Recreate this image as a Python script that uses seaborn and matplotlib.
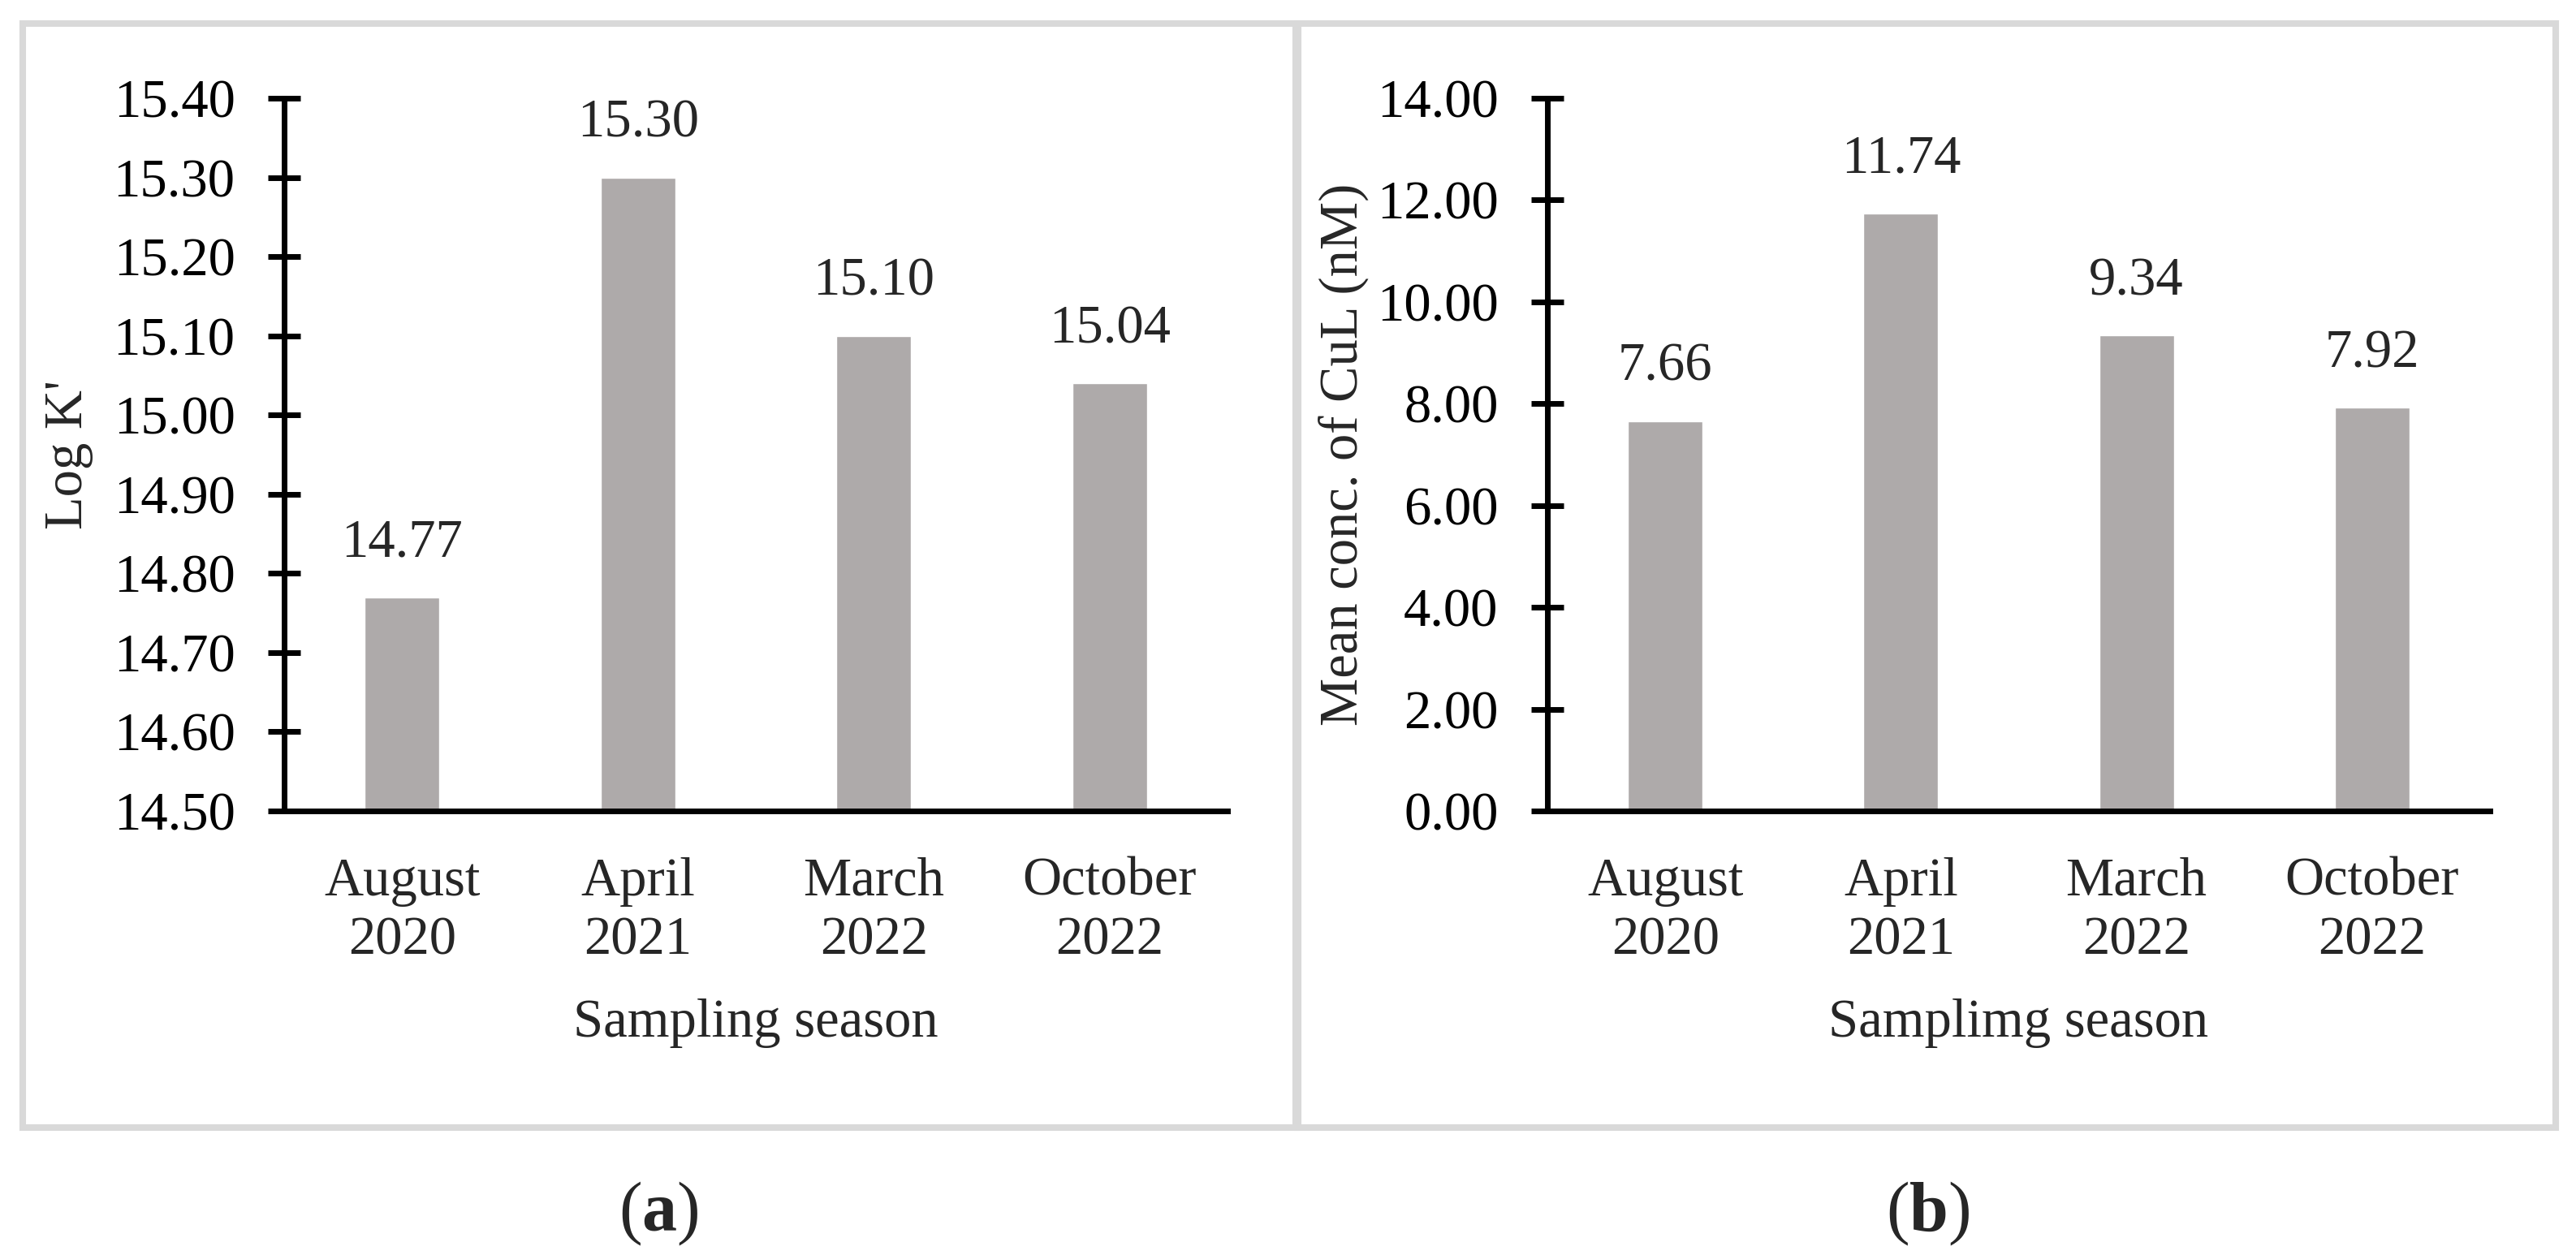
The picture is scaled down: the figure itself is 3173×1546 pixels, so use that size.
import numpy as np
import pandas as pd
import matplotlib
matplotlib.use("Agg")
import matplotlib.pyplot as plt
import matplotlib.ticker as mticker
from matplotlib.patches import Rectangle
import seaborn as sns

# ─────────────────────────────────────────────
# Données
# ─────────────────────────────────────────────
seasons = ["August\n2020", "April\n2021", "March\n2022", "October\n2022"]
log_k = [14.77, 15.30, 15.10, 15.04]
cul_conc = [7.66, 11.74, 9.34, 7.92]

panel_a_ylabel = "Log K'"
panel_b_ylabel = "Mean conc. of CuL (nM)"
panel_a_xlabel = "Sampling season"
panel_b_xlabel = "Samplimg season"

BAR_COLOR = "#AEAAAA"
BORDER_COLOR = "#D9D9D9"

# ─────────────────────────────────────────────
# Style
# ─────────────────────────────────────────────
sns.set_style("white")
plt.rcParams["font.family"] = ["Liberation Serif", "DejaVu Serif"]
plt.rcParams["mathtext.fontset"] = "custom"
plt.rcParams["mathtext.rm"] = "Liberation Serif"
plt.rcParams["mathtext.bf"] = "Liberation Serif:bold"

FS = 48
W, H = 3173, 1546
fig = plt.figure(figsize=(W / 100, H / 100), dpi=100)


def px_axes(x0, y0, x1, y1):
    return fig.add_axes([x0 / W, (H - y1) / H, (x1 - x0) / W, (y1 - y0) / H])


def draw_panel(ax, values, ylim, step, ylabel, xlabel, ylabelpad):
    df = pd.DataFrame({"season": seasons, "value": values})
    sns.barplot(data=df, x="season", y="value", color=BAR_COLOR, saturation=1,
                width=0.317, ax=ax, zorder=1)
    ax.set_ylim(*ylim)
    ax.yaxis.set_major_locator(mticker.MultipleLocator(step))
    ax.yaxis.set_major_formatter(mticker.FormatStrFormatter("%.2f"))
    for s in ["top", "right"]:
        ax.spines[s].set_visible(False)
    for s in ["left", "bottom"]:
        ax.spines[s].set_linewidth(5)
        ax.spines[s].set_color("black")
        ax.spines[s].set_zorder(3)
    ax.tick_params(axis="y", direction="inout", length=29, width=5,
                   pad=29, labelsize=FS, colors="black", left=True)
    ax.tick_params(axis="x", length=0, pad=41, labelsize=FS)
    for lab in ax.get_xticklabels():
        lab.set_linespacing(1.25)
    ax.set_ylabel(ylabel, fontsize=FS, labelpad=ylabelpad)
    ax.set_xlabel(xlabel, fontsize=FS, labelpad=29)
    for i, v in enumerate(values):
        ax.annotate(f"{v:.2f}", (i, v), xytext=(0, 36), textcoords="offset points",
                    ha="center", va="baseline", fontsize=FS, annotation_clip=False)


ax_a = px_axes(350, 121, 1512, 999)
draw_panel(ax_a, log_k, (14.5, 15.4), 0.1, panel_a_ylabel, panel_a_xlabel, 18)

ax_b = px_axes(1906, 121, 3067, 999)
draw_panel(ax_b, cul_conc, (0, 14), 2, panel_b_ylabel, panel_b_xlabel, 7)

# cadres gris autour des panneaux
for x0, x1 in [(28, 1596), (1599, 3148)]:
    fig.add_artist(Rectangle((x0 / W, (H - 1389) / H), (x1 - x0) / W, (1389 - 29) / H,
                             transform=fig.transFigure, fill=False,
                             edgecolor=BORDER_COLOR, linewidth=5.8))

fig.text(811 / W, (H - 1495) / H, r"($\mathbf{a}$)", fontsize=62, ha="center", va="center")
fig.text(2375 / W, (H - 1495) / H, r"($\mathbf{b}$)", fontsize=62, ha="center", va="center")

fig.savefig("out.png", dpi=100, facecolor="white")
